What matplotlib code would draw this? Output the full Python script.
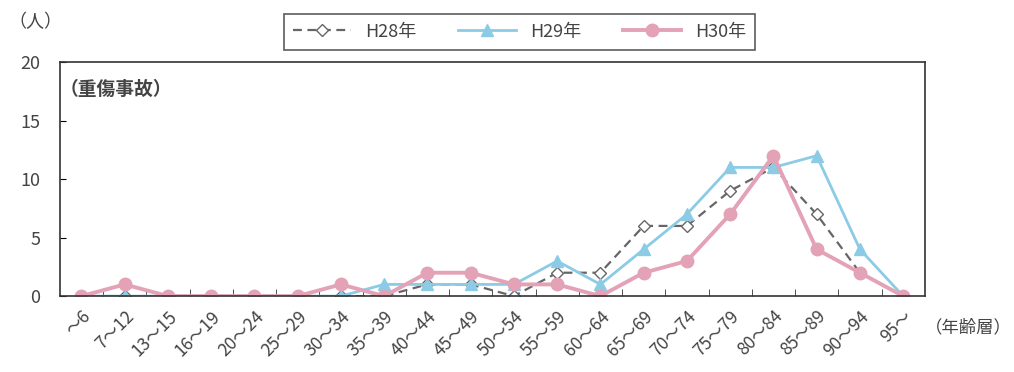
import numpy as np
import matplotlib
matplotlib.use("Agg")
import matplotlib.pyplot as plt

plt.rcParams['font.family'] = ['Noto Sans CJK JP', 'DejaVu Sans']

ages = ["～6", "7～12", "13～15", "16～19", "20～24", "25～29", "30～34",
        "35～39", "40～44", "45～49", "50～54", "55～59", "60～64", "65～69",
        "70～74", "75～79", "80～84", "85～89", "90～94", "95～"]

h28 = [0, 0, 0, 0, 0, 0, 0, 0, 1, 1, 0, 2, 2, 6, 6, 9, 11, 7, 2, 0]
h29 = [0, 0, 0, 0, 0, 0, 0, 1, 1, 1, 1, 3, 1, 4, 7, 11, 11, 12, 4, 0]
h30 = [0, 1, 0, 0, 0, 0, 1, 0, 2, 2, 1, 1, 0, 2, 3, 7, 12, 4, 2, 0]

fig = plt.figure(figsize=(10.14, 3.72), dpi=100)
ax = fig.add_axes([0.059, 0.204, 0.853, 0.629])

x = np.arange(len(ages))
ax.plot(x, h28, color="#666666", linestyle=(0, (4, 2.5)), linewidth=1.6,
        marker="D", markersize=6, markerfacecolor="white",
        markeredgecolor="#666666", markeredgewidth=1.0, label="H28年")
ax.plot(x, h29, color="#8ccbe6", linewidth=2.0,
        marker="^", markersize=8, label="H29年")
ax.plot(x, h30, color="#e3a2b6", linewidth=2.8,
        marker="o", markersize=9, label="H30年")

ax.set_xlim(-0.5, len(ages) - 0.5)
ax.set_ylim(0, 20)
ax.set_yticks([0, 5, 10, 15, 20])
ax.tick_params(axis="y", direction="in", length=4, labelsize=13,
               labelcolor="#444444", pad=14)
ax.set_xticks(x)
ax.set_xticklabels(ages, rotation=45, ha="right", rotation_mode="anchor",
                   fontsize=12.5, color="#444444")
ax.tick_params(axis="x", which="major", length=0, pad=8)
ax.set_xticks(np.arange(0.5, len(ages) - 0.5), minor=True)
ax.tick_params(axis="x", which="minor", direction="in", length=5, color="#333333")

for s in ax.spines.values():
    s.set_color("#333333")
    s.set_linewidth(1.2)

fig.text(0.008, 0.94, "（人）", fontsize=13, color="#444444", va="center")
ax.text(0.0, 0.885, "（重傷事故）", transform=ax.transAxes, fontsize=13.5,
        fontweight="bold", color="#444444", va="center")
fig.text(0.912, 0.12, "（年齢層）", fontsize=12.5, color="#444444", va="center")

leg = fig.legend(loc="center", bbox_to_anchor=(0.5125, 0.915), ncol=3,
                 frameon=True, fancybox=False, edgecolor="#333333",
                 fontsize=13, handlelength=3.2, columnspacing=2.3,
                 borderpad=0.5)
leg.get_frame().set_linewidth(1.2)
for t in leg.get_texts():
    t.set_color("#444444")

fig.savefig("out.png", dpi=100)
